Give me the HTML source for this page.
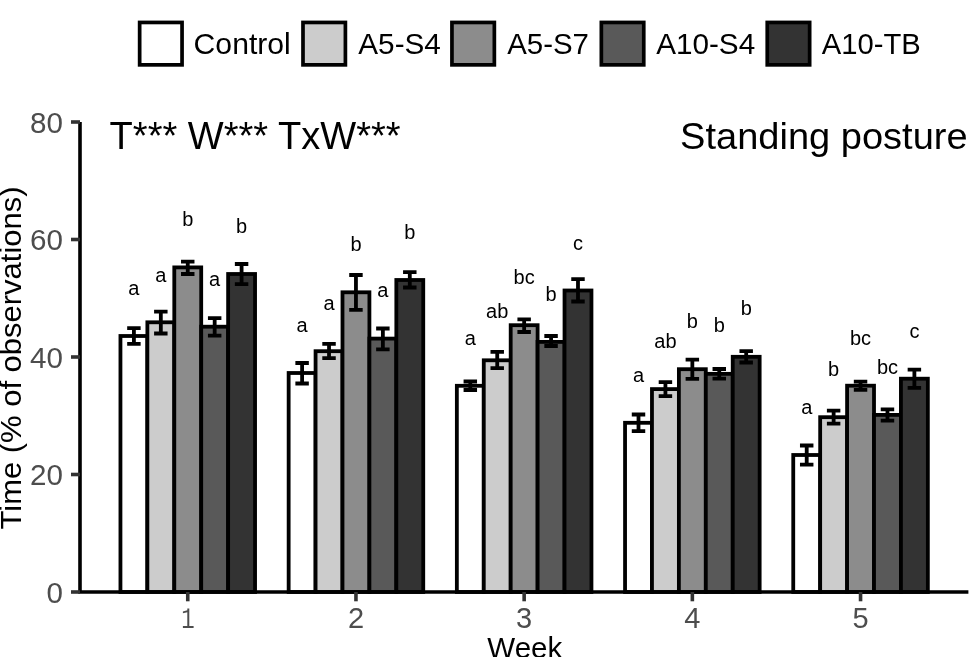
<!DOCTYPE html>
<html><head><meta charset="utf-8"><style>
html,body{margin:0;padding:0;background:#fff;width:969px;height:657px;overflow:hidden}
svg{display:block;will-change:transform}
text{font-family:"Liberation Sans",sans-serif}
</style></head><body>
<svg width="969" height="657" viewBox="0 0 969 657">
<rect width="969" height="657" fill="#fff"/>
<rect x="120.45" y="336.00" width="26.92" height="256.00" fill="#FFFFFF" stroke="#000" stroke-width="3.8"/>
<rect x="147.37" y="322.30" width="26.92" height="269.70" fill="#CCCCCC" stroke="#000" stroke-width="3.8"/>
<rect x="174.29" y="267.40" width="26.92" height="324.60" fill="#8C8C8C" stroke="#000" stroke-width="3.8"/>
<rect x="201.21" y="326.70" width="26.92" height="265.30" fill="#595959" stroke="#000" stroke-width="3.8"/>
<rect x="228.13" y="274.00" width="26.92" height="318.00" fill="#333333" stroke="#000" stroke-width="3.8"/>
<rect x="288.65" y="373.00" width="26.92" height="219.00" fill="#FFFFFF" stroke="#000" stroke-width="3.8"/>
<rect x="315.57" y="351.20" width="26.92" height="240.80" fill="#CCCCCC" stroke="#000" stroke-width="3.8"/>
<rect x="342.49" y="292.30" width="26.92" height="299.70" fill="#8C8C8C" stroke="#000" stroke-width="3.8"/>
<rect x="369.41" y="338.60" width="26.92" height="253.40" fill="#595959" stroke="#000" stroke-width="3.8"/>
<rect x="396.33" y="280.00" width="26.92" height="312.00" fill="#333333" stroke="#000" stroke-width="3.8"/>
<rect x="456.85" y="385.80" width="26.92" height="206.20" fill="#FFFFFF" stroke="#000" stroke-width="3.8"/>
<rect x="483.77" y="360.30" width="26.92" height="231.70" fill="#CCCCCC" stroke="#000" stroke-width="3.8"/>
<rect x="510.69" y="325.20" width="26.92" height="266.80" fill="#8C8C8C" stroke="#000" stroke-width="3.8"/>
<rect x="537.61" y="341.90" width="26.92" height="250.10" fill="#595959" stroke="#000" stroke-width="3.8"/>
<rect x="564.53" y="290.50" width="26.92" height="301.50" fill="#333333" stroke="#000" stroke-width="3.8"/>
<rect x="625.05" y="422.80" width="26.92" height="169.20" fill="#FFFFFF" stroke="#000" stroke-width="3.8"/>
<rect x="651.97" y="389.10" width="26.92" height="202.90" fill="#CCCCCC" stroke="#000" stroke-width="3.8"/>
<rect x="678.89" y="369.20" width="26.92" height="222.80" fill="#8C8C8C" stroke="#000" stroke-width="3.8"/>
<rect x="705.81" y="373.85" width="26.92" height="218.15" fill="#595959" stroke="#000" stroke-width="3.8"/>
<rect x="732.73" y="356.80" width="26.92" height="235.20" fill="#333333" stroke="#000" stroke-width="3.8"/>
<rect x="793.25" y="455.00" width="26.92" height="137.00" fill="#FFFFFF" stroke="#000" stroke-width="3.8"/>
<rect x="820.17" y="417.20" width="26.92" height="174.80" fill="#CCCCCC" stroke="#000" stroke-width="3.8"/>
<rect x="847.09" y="385.70" width="26.92" height="206.30" fill="#8C8C8C" stroke="#000" stroke-width="3.8"/>
<rect x="874.01" y="414.90" width="26.92" height="177.10" fill="#595959" stroke="#000" stroke-width="3.8"/>
<rect x="900.93" y="378.70" width="26.92" height="213.30" fill="#333333" stroke="#000" stroke-width="3.8"/>
<path d="M127.18 328.10H140.64M133.91 328.10V343.90M127.18 343.90H140.64" stroke="#000" stroke-width="3.8" fill="none"/>
<path d="M154.10 311.60H167.56M160.83 311.60V333.50M154.10 333.50H167.56" stroke="#000" stroke-width="3.8" fill="none"/>
<path d="M181.02 261.70H194.48M187.75 261.70V274.00M181.02 274.00H194.48" stroke="#000" stroke-width="3.8" fill="none"/>
<path d="M207.94 318.20H221.40M214.67 318.20V335.70M207.94 335.70H221.40" stroke="#000" stroke-width="3.8" fill="none"/>
<path d="M234.86 264.00H248.32M241.59 264.00V284.20M234.86 284.20H248.32" stroke="#000" stroke-width="3.8" fill="none"/>
<path d="M295.38 363.00H308.84M302.11 363.00V383.50M295.38 383.50H308.84" stroke="#000" stroke-width="3.8" fill="none"/>
<path d="M322.30 343.90H335.76M329.03 343.90V358.20M322.30 358.20H335.76" stroke="#000" stroke-width="3.8" fill="none"/>
<path d="M349.22 275.00H362.68M355.95 275.00V309.80M349.22 309.80H362.68" stroke="#000" stroke-width="3.8" fill="none"/>
<path d="M376.14 328.50H389.60M382.87 328.50V349.30M376.14 349.30H389.60" stroke="#000" stroke-width="3.8" fill="none"/>
<path d="M403.06 272.20H416.52M409.79 272.20V287.50M403.06 287.50H416.52" stroke="#000" stroke-width="3.8" fill="none"/>
<path d="M463.58 381.50H477.04M470.31 381.50V390.00M463.58 390.00H477.04" stroke="#000" stroke-width="3.8" fill="none"/>
<path d="M490.50 351.80H503.96M497.23 351.80V368.20M490.50 368.20H503.96" stroke="#000" stroke-width="3.8" fill="none"/>
<path d="M517.42 319.30H530.88M524.15 319.30V332.00M517.42 332.00H530.88" stroke="#000" stroke-width="3.8" fill="none"/>
<path d="M544.34 336.00H557.80M551.07 336.00V346.00M544.34 346.00H557.80" stroke="#000" stroke-width="3.8" fill="none"/>
<path d="M571.26 279.10H584.72M577.99 279.10V301.50M571.26 301.50H584.72" stroke="#000" stroke-width="3.8" fill="none"/>
<path d="M631.78 414.50H645.24M638.51 414.50V431.20M631.78 431.20H645.24" stroke="#000" stroke-width="3.8" fill="none"/>
<path d="M658.70 382.10H672.16M665.43 382.10V396.10M658.70 396.10H672.16" stroke="#000" stroke-width="3.8" fill="none"/>
<path d="M685.62 359.60H699.08M692.35 359.60V378.80M685.62 378.80H699.08" stroke="#000" stroke-width="3.8" fill="none"/>
<path d="M712.54 369.00H726.00M719.27 369.00V378.70M712.54 378.70H726.00" stroke="#000" stroke-width="3.8" fill="none"/>
<path d="M739.46 351.10H752.92M746.19 351.10V362.50M739.46 362.50H752.92" stroke="#000" stroke-width="3.8" fill="none"/>
<path d="M799.98 445.50H813.44M806.71 445.50V464.60M799.98 464.60H813.44" stroke="#000" stroke-width="3.8" fill="none"/>
<path d="M826.90 410.70H840.36M833.63 410.70V423.70M826.90 423.70H840.36" stroke="#000" stroke-width="3.8" fill="none"/>
<path d="M853.82 381.60H867.28M860.55 381.60V389.80M853.82 389.80H867.28" stroke="#000" stroke-width="3.8" fill="none"/>
<path d="M880.74 409.30H894.20M887.47 409.30V420.60M880.74 420.60H894.20" stroke="#000" stroke-width="3.8" fill="none"/>
<path d="M907.66 369.60H921.12M914.39 369.60V387.80M907.66 387.80H921.12" stroke="#000" stroke-width="3.8" fill="none"/>
<text x="133.91" y="295.20" text-anchor="middle" font-size="20" font-family="Liberation Sans, sans-serif">a</text>
<text x="160.83" y="281.60" text-anchor="middle" font-size="20" font-family="Liberation Sans, sans-serif">a</text>
<text x="187.75" y="226.40" text-anchor="middle" font-size="20" font-family="Liberation Sans, sans-serif">b</text>
<text x="214.67" y="285.60" text-anchor="middle" font-size="20" font-family="Liberation Sans, sans-serif">a</text>
<text x="241.59" y="232.90" text-anchor="middle" font-size="20" font-family="Liberation Sans, sans-serif">b</text>
<text x="302.11" y="332.00" text-anchor="middle" font-size="20" font-family="Liberation Sans, sans-serif">a</text>
<text x="329.03" y="309.90" text-anchor="middle" font-size="20" font-family="Liberation Sans, sans-serif">a</text>
<text x="355.95" y="250.90" text-anchor="middle" font-size="20" font-family="Liberation Sans, sans-serif">b</text>
<text x="382.87" y="297.40" text-anchor="middle" font-size="20" font-family="Liberation Sans, sans-serif">a</text>
<text x="409.79" y="238.80" text-anchor="middle" font-size="20" font-family="Liberation Sans, sans-serif">b</text>
<text x="470.31" y="344.80" text-anchor="middle" font-size="20" font-family="Liberation Sans, sans-serif">a</text>
<text x="497.23" y="318.30" text-anchor="middle" font-size="20" font-family="Liberation Sans, sans-serif">ab</text>
<text x="524.15" y="284.20" text-anchor="middle" font-size="20" font-family="Liberation Sans, sans-serif">bc</text>
<text x="551.07" y="300.50" text-anchor="middle" font-size="20" font-family="Liberation Sans, sans-serif">b</text>
<text x="577.99" y="249.60" text-anchor="middle" font-size="20" font-family="Liberation Sans, sans-serif">c</text>
<text x="638.51" y="381.90" text-anchor="middle" font-size="20" font-family="Liberation Sans, sans-serif">a</text>
<text x="665.43" y="347.70" text-anchor="middle" font-size="20" font-family="Liberation Sans, sans-serif">ab</text>
<text x="692.35" y="327.80" text-anchor="middle" font-size="20" font-family="Liberation Sans, sans-serif">b</text>
<text x="719.27" y="332.40" text-anchor="middle" font-size="20" font-family="Liberation Sans, sans-serif">b</text>
<text x="746.19" y="315.30" text-anchor="middle" font-size="20" font-family="Liberation Sans, sans-serif">b</text>
<text x="806.71" y="413.70" text-anchor="middle" font-size="20" font-family="Liberation Sans, sans-serif">a</text>
<text x="833.63" y="376.20" text-anchor="middle" font-size="20" font-family="Liberation Sans, sans-serif">b</text>
<text x="860.55" y="345.00" text-anchor="middle" font-size="20" font-family="Liberation Sans, sans-serif">bc</text>
<text x="887.47" y="373.90" text-anchor="middle" font-size="20" font-family="Liberation Sans, sans-serif">bc</text>
<text x="914.39" y="337.70" text-anchor="middle" font-size="20" font-family="Liberation Sans, sans-serif">c</text>
<path d="M80 122V593.8M78.2 592H968.4" stroke="#000" stroke-width="3.6" fill="none"/>
<path d="M71 592.00H80" stroke="#333" stroke-width="3.6"/>
<text x="63.0" y="602.60" text-anchor="end" font-size="30.2" fill="#4D4D4D" font-family="Liberation Sans, sans-serif" textLength="16.46" lengthAdjust="spacingAndGlyphs">0</text>
<path d="M71 474.50H80" stroke="#333" stroke-width="3.6"/>
<text x="63.0" y="485.10" text-anchor="end" font-size="30.2" fill="#4D4D4D" font-family="Liberation Sans, sans-serif" textLength="32.91" lengthAdjust="spacingAndGlyphs">20</text>
<path d="M71 357.00H80" stroke="#333" stroke-width="3.6"/>
<text x="63.0" y="367.60" text-anchor="end" font-size="30.2" fill="#4D4D4D" font-family="Liberation Sans, sans-serif" textLength="32.91" lengthAdjust="spacingAndGlyphs">40</text>
<path d="M71 239.50H80" stroke="#333" stroke-width="3.6"/>
<text x="63.0" y="250.10" text-anchor="end" font-size="30.2" fill="#4D4D4D" font-family="Liberation Sans, sans-serif" textLength="32.91" lengthAdjust="spacingAndGlyphs">60</text>
<path d="M71 122.00H80" stroke="#333" stroke-width="3.6"/>
<text x="63.0" y="132.60" text-anchor="end" font-size="30.2" fill="#4D4D4D" font-family="Liberation Sans, sans-serif" textLength="32.91" lengthAdjust="spacingAndGlyphs">80</text>
<path d="M187.75 592V601.3" stroke="#333" stroke-width="3.6"/>
<path d="M182.9 611.5L187.3 610.2V608.4H189.3V626.1H193.6V628H182.9V626.1H187.3V612.2L182.9 613.3Z" fill="#4D4D4D"/>
<path d="M355.95 592V601.3" stroke="#333" stroke-width="3.6"/>
<text x="355.95" y="627.9" text-anchor="middle" font-size="29" fill="#4D4D4D" font-family="Liberation Sans, sans-serif">2</text>
<path d="M524.15 592V601.3" stroke="#333" stroke-width="3.6"/>
<text x="524.15" y="627.9" text-anchor="middle" font-size="29" fill="#4D4D4D" font-family="Liberation Sans, sans-serif">3</text>
<path d="M692.35 592V601.3" stroke="#333" stroke-width="3.6"/>
<text x="692.35" y="627.9" text-anchor="middle" font-size="29" fill="#4D4D4D" font-family="Liberation Sans, sans-serif">4</text>
<path d="M860.55 592V601.3" stroke="#333" stroke-width="3.6"/>
<text x="860.55" y="627.9" text-anchor="middle" font-size="29" fill="#4D4D4D" font-family="Liberation Sans, sans-serif">5</text>
<text x="524.8" y="657.5" text-anchor="middle" font-size="29" font-family="Liberation Sans, sans-serif" textLength="75" lengthAdjust="spacingAndGlyphs">Week</text>
<text transform="translate(21 358) rotate(-90)" x="0" y="0" text-anchor="middle" font-size="29" font-family="Liberation Sans, sans-serif" textLength="343" lengthAdjust="spacingAndGlyphs">Time (% of observations)</text>
<text x="109.6" y="148.8" font-size="38" font-family="Liberation Sans, sans-serif" textLength="291" lengthAdjust="spacingAndGlyphs">T*** W*** TxW***</text>
<text x="680.1" y="148.9" font-size="37.5" font-family="Liberation Sans, sans-serif" textLength="287.5" lengthAdjust="spacingAndGlyphs">Standing posture</text>
<rect x="139.65" y="22.45" width="42.4" height="42.4" fill="#FFFFFF" stroke="#000" stroke-width="3.7"/>
<text x="193.60" y="53.7" font-size="30" font-family="Liberation Sans, sans-serif" textLength="97.2" lengthAdjust="spacingAndGlyphs">Control</text>
<rect x="303.00" y="22.45" width="42.4" height="42.4" fill="#CCCCCC" stroke="#000" stroke-width="3.7"/>
<text x="358.30" y="53.7" font-size="30" font-family="Liberation Sans, sans-serif" textLength="82.6" lengthAdjust="spacingAndGlyphs">A5-S4</text>
<rect x="451.95" y="22.45" width="42.4" height="42.4" fill="#8C8C8C" stroke="#000" stroke-width="3.7"/>
<text x="507.20" y="53.7" font-size="30" font-family="Liberation Sans, sans-serif" textLength="81.8" lengthAdjust="spacingAndGlyphs">A5-S7</text>
<rect x="601.35" y="22.45" width="42.4" height="42.4" fill="#595959" stroke="#000" stroke-width="3.7"/>
<text x="656.20" y="53.7" font-size="30" font-family="Liberation Sans, sans-serif" textLength="99.0" lengthAdjust="spacingAndGlyphs">A10-S4</text>
<rect x="767.25" y="22.45" width="42.4" height="42.4" fill="#333333" stroke="#000" stroke-width="3.7"/>
<text x="821.80" y="53.7" font-size="30" font-family="Liberation Sans, sans-serif" textLength="99.0" lengthAdjust="spacingAndGlyphs">A10-TB</text>
</svg>
</body></html>
